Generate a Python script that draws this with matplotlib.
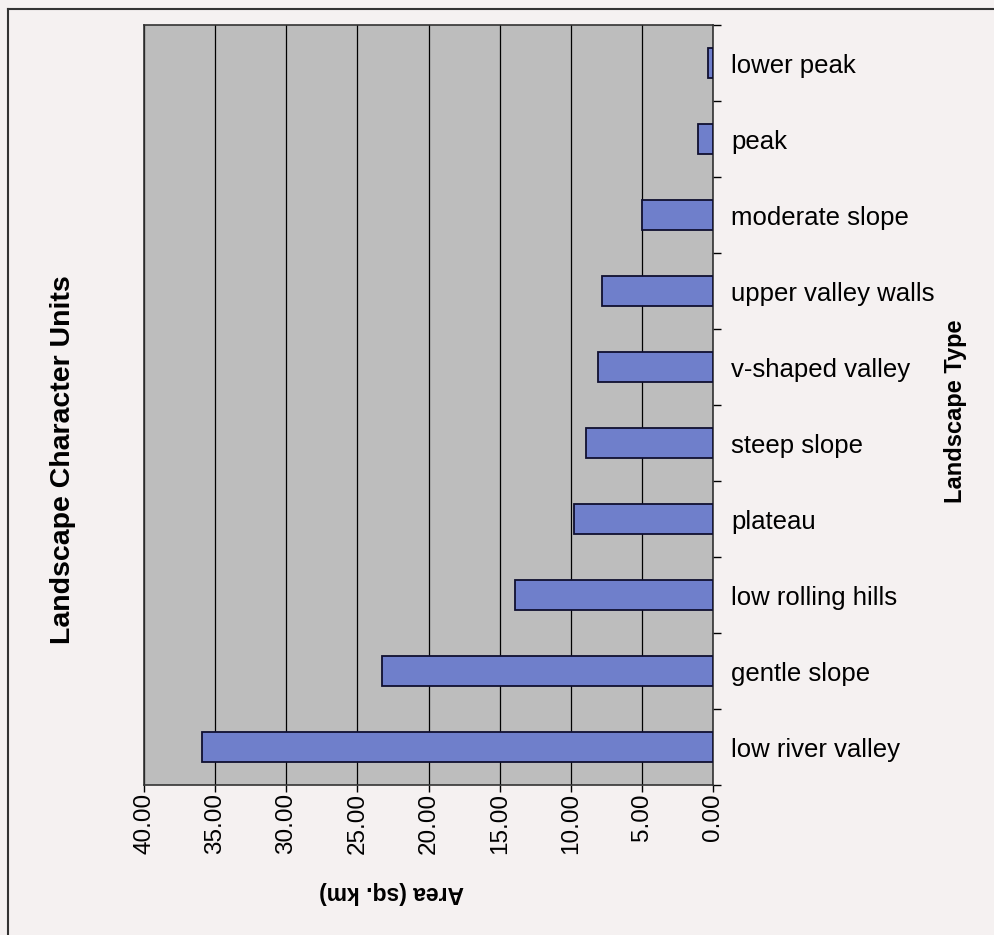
import numpy as np
import matplotlib
matplotlib.use("Agg")
import matplotlib.pyplot as plt
from matplotlib.lines import Line2D

# ── 데이터 ─────────────────────────────────────────────
categories = ["low river valley", "gentle slope", "low rolling hills", "plateau",
              "steep slope", "v-shaped valley", "upper valley walls",
              "moderate slope", "peak", "lower peak"]
areas = [35.9, 23.3, 13.9, 9.8, 8.9, 8.1, 7.8, 5.0, 1.05, 0.35]
xticks = [40, 35, 30, 25, 20, 15, 10, 5, 0]

plt.rcParams["font.family"] = ["Liberation Sans", "DejaVu Sans"]

fig = plt.figure(figsize=(9.94, 9.35), dpi=100)
fig.patch.set_facecolor("#f5f1f1")

ax = fig.add_axes([0.1449, 0.1604, 0.5724, 0.8128])
ax.set_facecolor("#bdbdbd")

y = np.arange(len(categories))
ax.barh(y, areas, height=0.4, color="#6f7fcb", edgecolor="#101030", linewidth=1.3, zorder=3)

ax.set_xlim(40, 0)
ax.set_ylim(-0.5, len(categories) - 0.5)
ax.set_xticks(xticks)
ax.set_xticklabels([f"{v:.2f}" for v in xticks], rotation=90, fontsize=17.5)
ax.grid(axis="x", color="black", linewidth=0.9, zorder=1)
ax.tick_params(axis="x", direction="out", length=5, width=1, pad=1)

# 카테고리 라벨 (오른쪽)
ax.yaxis.tick_right()
ax.set_yticks(y)
ax.set_yticklabels(categories, fontsize=18.5)
ax.tick_params(axis="y", which="major", length=0, pad=13)
ax.set_yticks(np.arange(-0.5, len(categories), 1.0), minor=True)
ax.tick_params(axis="y", which="minor", right=True, left=False, length=6, width=1)

for s in ["left", "top", "right", "bottom"]:
    ax.spines[s].set_color("#333333")
    ax.spines[s].set_linewidth(1.2)

fig.text(0.063, 0.508, "Landscape Character Units", rotation=90, fontsize=20.5,
         fontweight="bold", ha="center", va="center")
fig.text(0.961, 0.56, "Landscape Type", rotation=90, fontsize=17,
         fontweight="bold", ha="center", va="center")
fig.text(0.394, 0.045, "Area (sq. km)", rotation=180, fontsize=16.5,
         fontweight="bold", ha="center", va="center")

# 바깥 테두리 (왼쪽, 위)
fig.add_artist(Line2D([0.008, 0.008], [0.0, 0.990], color="#333333", lw=1.5))
fig.add_artist(Line2D([0.008, 1.0], [0.990, 0.990], color="#333333", lw=1.5))

fig.savefig("out.png", dpi=100, facecolor=fig.get_facecolor())
